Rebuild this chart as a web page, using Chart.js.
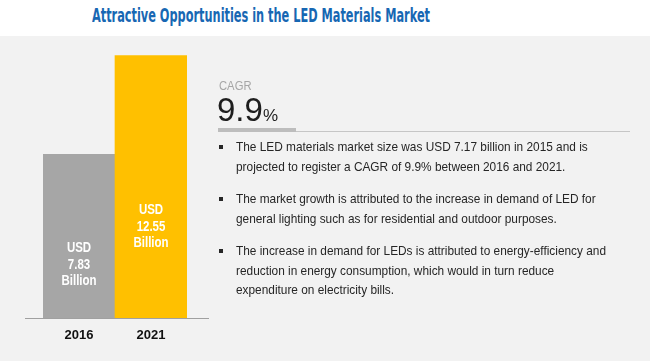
<!DOCTYPE html>
<html><head><meta charset="utf-8">
<script src="https://cdn.jsdelivr.net/npm/chart.js@4/dist/chart.umd.min.js"></script>
<style>
html,body{margin:0;padding:0;width:650px;height:361px;overflow:hidden;background:#fff;font-family:"Liberation Sans",Arial,sans-serif;}
#title{position:absolute;left:92px;top:3px;font-family:"DejaVu Sans Condensed","Liberation Sans",sans-serif;font-weight:bold;font-size:20px;line-height:24px;color:#1767b3;white-space:nowrap;display:inline-block;transform-origin:0 0;}
#panel{position:absolute;left:0;top:36px;width:650px;height:325px;background:#f2f2f2;}
#wrap{position:absolute;left:0;top:36px;width:220px;height:325px;}
#cagrLbl{position:absolute;left:219px;top:80px;font-size:12.5px;line-height:12px;color:#a6a6a6;display:inline-block;transform:scaleX(0.9);transform-origin:0 0;}
#cagrVal{position:absolute;left:217px;top:93px;font-size:33px;color:#1e1e1e;line-height:34px;white-space:nowrap;}
#cagrVal span{font-size:17px;}
#thick{position:absolute;left:218px;top:128px;width:78px;height:4px;background:#bdbdbd;}
#thin{position:absolute;left:296px;top:131px;width:334px;height:1px;background:#c6c6c6;}
.b{position:absolute;left:236px;font-family:"Liberation Sans",Arial,sans-serif;font-size:13.5px;line-height:19.5px;color:#262626;white-space:nowrap;transform-origin:0 0;}
.b span{display:block;}
.dot{position:absolute;left:219px;width:4px;height:4px;background:#262626;}
</style></head><body>
<div id="panel"></div>
<div id="title">Attractive Opportunities in the LED Materials Market</div>
<div id="wrap"><canvas id="c" width="220" height="325"></canvas></div>
<div id="cagrLbl">CAGR</div>
<div id="cagrVal">9.9<span>%</span></div>
<div id="thick"></div><div id="thin"></div>
<div class="dot" style="top:145px"></div>
<div class="dot" style="top:197px"></div>
<div class="dot" style="top:249px"></div>
<div class="b" id="b1" style="top:137px"><span id="ref1">The LED materials market size was USD 7.17 billion in 2015 and is</span><span>projected to register a CAGR of 9.9% between 2016 and 2021.</span></div>
<div class="b" style="top:189px"><span>The market growth is attributed to the increase in demand of LED for</span><span>general lighting such as for residential and outdoor purposes.</span></div>
<div class="b" style="top:241px"><span>The increase in demand for LEDs is attributed to energy-efficiency and</span><span>reduction in energy consumption, which would in turn reduce</span><span>expenditure on electricity bills.</span></div>
<script>
const categories = ['2016', '2021'];
const values = [7.83, 12.55];
const barLabels = [['USD', '7.83', 'Billion'], ['USD', '12.55', 'Billion']];
const barColors = ['#a6a6a6', '#ffc000'];

// fit condensed-looking text widths
(function fit() {
  const t = document.getElementById('title');
  const tw = t.getBoundingClientRect().width;
  t.style.transform = 'scaleX(' + (338 / tw) + ')';
  const r = document.getElementById('ref1');
  const rw = r.scrollWidth || r.getBoundingClientRect().width;
  const k = 352 / rw;
  document.querySelectorAll('.b').forEach(e => { e.style.transform = 'scaleX(' + k + ')'; });
})();

const labelPlugin = {
  id: 'labels',
  afterDatasetsDraw(chart) {
    const ctx = chart.ctx;
    const meta = chart.getDatasetMeta(0);
    const a = chart.chartArea;
    ctx.save();
    ctx.strokeStyle = '#a0a0a0';
    ctx.lineWidth = 1;
    ctx.beginPath();
    ctx.moveTo(a.left - 18, Math.round(a.bottom) + 0.5);
    ctx.lineTo(a.right + 22, Math.round(a.bottom) + 0.5);
    ctx.stroke();
    ctx.fillStyle = '#ffffff';
    ctx.font = 'bold 14px "Liberation Sans", Arial, sans-serif';
    ctx.textAlign = 'center';
    ctx.textBaseline = 'alphabetic';
    meta.data.forEach((bar, i) => {
      const h = bar.base - bar.y;
      const mid = bar.base - (0.384 * h - 13.6);
      barLabels[i].forEach((t, j) => {
        ctx.save();
        ctx.translate(bar.x, mid + (j - 1) * 16.5);
        ctx.scale(0.82, 1);
        ctx.fillText(t, 0, 0);
        ctx.restore();
      });
    });
    ctx.restore();
  }
};

new Chart(document.getElementById('c'), {
  type: 'bar',
  data: {
    labels: categories,
    datasets: [{ data: values, backgroundColor: barColors, barPercentage: 1, categoryPercentage: 1, borderWidth: 0 }]
  },
  options: {
    responsive: false,
    animation: false,
    layout: { padding: { left: 43, right: 33, top: 4, bottom: 0 } },
    plugins: { legend: { display: false }, tooltip: { enabled: false } },
    scales: {
      x: {
        grid: { display: false, drawTicks: false },
        border: { display: false },
        ticks: { color: '#111', padding: 10, font: { family: '"Liberation Sans", Arial, sans-serif', weight: 'bold', size: 13 } },
        afterFit: (s) => { s.height = 43; }
      },
      y: { display: false, min: 0, max: 13.3 }
    }
  },
  plugins: [labelPlugin]
});
</script>
</body></html>
